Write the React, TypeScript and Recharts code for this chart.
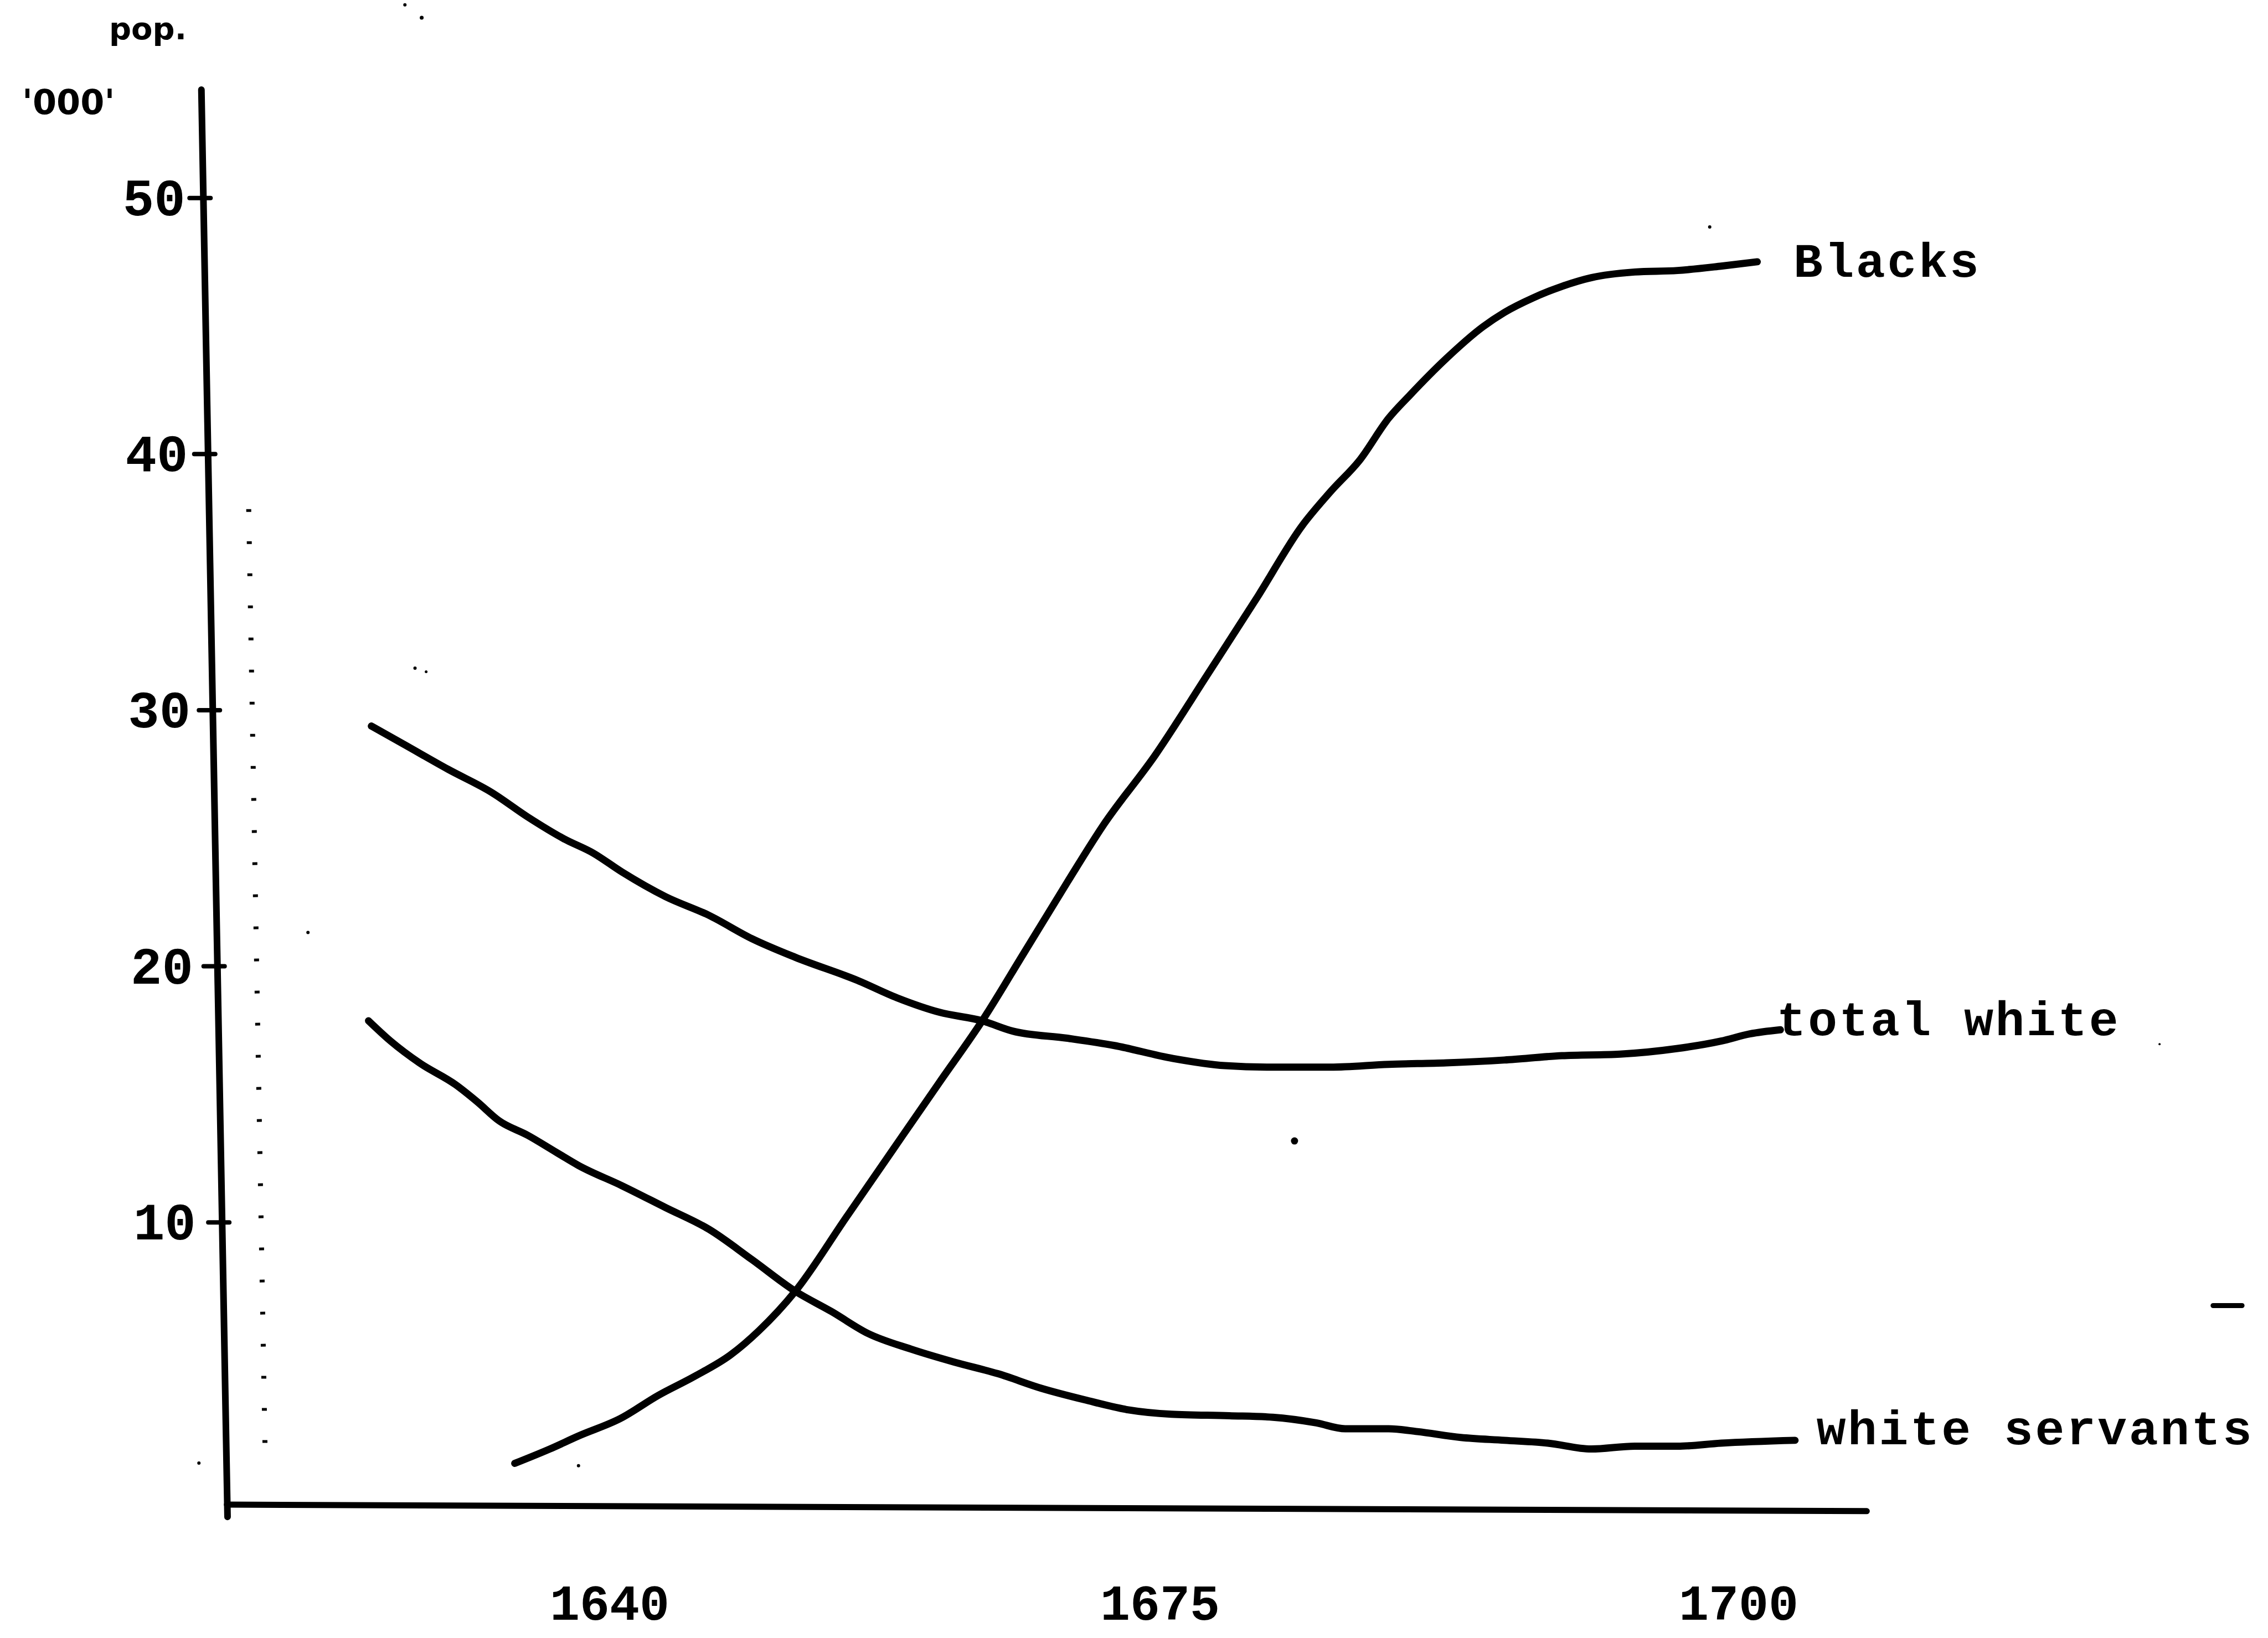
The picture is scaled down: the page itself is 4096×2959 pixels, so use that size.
import React from 'react';
import { LineChart, Line, XAxis, YAxis, ReferenceLine, ReferenceDot } from 'recharts';

// x is measured in axis units: the "1640" label sits at 0 and the "1700" label at 2
const xTickPositions = [0, 0.975, 2];
const xTickLabels = ['1640', '1675', '1700'];
const yTicks = [10, 20, 30, 40, 50];
const seriesNames = ['Blacks', 'total white', 'white servants'];

// population, thousands
const blacks = [
  { x: -0.168, y: 0.59 }, { x: -0.106, y: 1.15 }, { x: -0.055, y: 1.66 }, { x: 0.019, y: 2.34 },
  { x: 0.086, y: 3.24 }, { x: 0.15, y: 3.98 }, { x: 0.214, y: 4.82 }, { x: 0.265, y: 5.78 },
  { x: 0.329, y: 7.31 }, { x: 0.419, y: 10.19 }, { x: 0.501, y: 12.81 }, { x: 0.585, y: 15.49 },
  { x: 0.66, y: 17.87 }, { x: 0.734, y: 20.52 }, { x: 0.811, y: 23.29 }, { x: 0.874, y: 25.49 },
  { x: 0.967, y: 28.26 }, { x: 1.06, y: 31.42 }, { x: 1.149, y: 34.47 }, { x: 1.226, y: 37.18 },
  { x: 1.277, y: 38.53 }, { x: 1.329, y: 39.77 }, { x: 1.38, y: 41.4 }, { x: 1.418, y: 42.31 },
  { x: 1.482, y: 43.73 }, { x: 1.547, y: 44.97 }, { x: 1.585, y: 45.53 }, { x: 1.636, y: 46.1 },
  { x: 1.687, y: 46.55 }, { x: 1.739, y: 46.89 }, { x: 1.816, y: 47.11 }, { x: 1.892, y: 47.17 },
  { x: 1.969, y: 47.34 }, { x: 2.033, y: 47.51 },
];

const totalWhite = [
  { x: -0.422, y: 29.38 }, { x: -0.363, y: 28.65 }, { x: -0.286, y: 27.69 }, { x: -0.209, y: 26.79 },
  { x: -0.145, y: 25.83 }, { x: -0.081, y: 24.98 }, { x: -0.029, y: 24.42 }, { x: 0.022, y: 23.68 },
  { x: 0.099, y: 22.72 }, { x: 0.176, y: 21.99 }, { x: 0.252, y: 21.08 }, { x: 0.329, y: 20.35 },
  { x: 0.439, y: 19.45 }, { x: 0.509, y: 18.77 }, { x: 0.585, y: 18.2 }, { x: 0.66, y: 17.87 },
  { x: 0.714, y: 17.47 }, { x: 0.811, y: 17.19 }, { x: 0.893, y: 16.91 }, { x: 0.998, y: 16.4 },
  { x: 1.09, y: 16.12 }, { x: 1.175, y: 16.06 }, { x: 1.277, y: 16.06 }, { x: 1.38, y: 16.17 },
  { x: 1.482, y: 16.23 }, { x: 1.585, y: 16.34 }, { x: 1.687, y: 16.51 }, { x: 1.79, y: 16.57 },
  { x: 1.892, y: 16.79 }, { x: 1.969, y: 17.08 }, { x: 2.02, y: 17.36 }, { x: 2.074, y: 17.52 },
];

const whiteServants = [
  { x: -0.427, y: 17.87 }, { x: -0.388, y: 17.08 }, { x: -0.337, y: 16.23 }, { x: -0.273, y: 15.38 },
  { x: -0.234, y: 14.7 }, { x: -0.196, y: 13.97 }, { x: -0.145, y: 13.4 }, { x: -0.094, y: 12.73 },
  { x: -0.055, y: 12.22 }, { x: 0.022, y: 11.43 }, { x: 0.099, y: 10.58 }, { x: 0.176, y: 9.73 },
  { x: 0.252, y: 8.55 }, { x: 0.329, y: 7.31 }, { x: 0.393, y: 6.52 }, { x: 0.457, y: 5.67 },
  { x: 0.534, y: 5.05 }, { x: 0.611, y: 4.54 }, { x: 0.688, y: 4.09 }, { x: 0.765, y: 3.52 },
  { x: 0.842, y: 3.07 }, { x: 0.919, y: 2.68 }, { x: 0.995, y: 2.51 }, { x: 1.098, y: 2.45 },
  { x: 1.175, y: 2.39 }, { x: 1.252, y: 2.17 }, { x: 1.303, y: 1.94 }, { x: 1.38, y: 1.94 },
  { x: 1.431, y: 1.83 }, { x: 1.508, y: 1.6 }, { x: 1.585, y: 1.49 }, { x: 1.662, y: 1.38 },
  { x: 1.739, y: 1.15 }, { x: 1.816, y: 1.26 }, { x: 1.892, y: 1.26 }, { x: 1.969, y: 1.38 },
  { x: 2.1, y: 1.49 },
];

// hand-drawn axes and the scanned dotted guide
const yAxisSegment = [{ x: -0.7231, y: 54.23 }, { x: -0.6768, y: -1.5 }];
const xAxisSegment = [{ x: -0.678, y: -1.022 }, { x: 2.227, y: -1.276 }];
const dottedSegment = [{ x: -0.6393, y: 37.85 }, { x: -0.6099, y: 0.587 }];
const dashSegment = [{ x: 2.8405, y: 6.75 }, { x: 2.8918, y: 6.75 }];
const scanSpecks = [
  { x: 1.2133, y: 13.18, r: 6.5 },
  { x: -0.3447, y: 31.64, r: 3 },
  { x: -0.325, y: 31.5, r: 2.5 },
  { x: -0.5343, y: 21.32, r: 3 },
  { x: 1.9488, y: 48.87, r: 3 },
  { x: -0.0551, y: 0.5, r: 3 },
  { x: -0.7275, y: 0.6, r: 3 },
  { x: -0.3329, y: 57.04, r: 3.5 },
  { x: -0.3626, y: 57.54, r: 3 },
  { x: 2.7457, y: 16.96, r: 2 },
];

const W = 4096;
const H = 2959;
const PLOT_LEFT = 361.8;
const PLOT_TOP = 162;
const PLOT_BOTTOM = 2740.2;
const Y_AXIS_W = 300;
const X_AXIS_H = 200;
const MARGIN = {
  top: PLOT_TOP,
  right: 721.6,
  bottom: H - PLOT_BOTTOM - X_AXIS_H,
  left: PLOT_LEFT - Y_AXIS_W,
};
const X_DOMAIN: [number, number] = [-0.725, 2.23];
const Y_DOMAIN: [number, number] = [-1.5, 54.23];

const MONO = "'Liberation Mono', 'DejaVu Sans Mono', monospace";
const HAND = "'DejaVu Sans', sans-serif";
const INK = '#000';

const axisXAt = (y: number) => 363.7 + 0.0183 * (y - PLOT_TOP);

const YTick = (props: any) => {
  const { y, payload } = props;
  const ax = axisXAt(y);
  const end = ax - 32.7 - 0.008 * (y - 366);
  return (
    <g>
      <line x1={ax - 25} y1={y} x2={ax + 13} y2={y} stroke={INK} strokeWidth={8} strokeLinecap="round" />
      <text x={end} y={y + 31} textAnchor="end" fontFamily={MONO} fontWeight="bold" fontSize={94} fill={INK}>
        {payload.value}
      </text>
    </g>
  );
};

const XTick = (props: any) => {
  const { x, payload } = props;
  const i = xTickPositions.indexOf(payload.value);
  return (
    <text x={x} y={2926} textAnchor="middle" fontFamily={MONO} fontWeight="bold" fontSize={90} fill={INK}>
      {xTickLabels[i]}
    </text>
  );
};

const endLabel = (name: string, count: number, dx: number, dy: number) => (props: any) => {
  const { cx, cy, index } = props;
  if (index !== count - 1) return <g key={`e-${name}-${index}`} />;
  return (
    <text
      key={`lab-${name}`}
      x={cx + dx}
      y={cy + dy}
      fontFamily={MONO}
      fontWeight="bold"
      fontSize={88}
      letterSpacing={3.6}
      fill={INK}
    >
      {name}
    </text>
  );
};

export default function App() {
  return (
    <div style={{ position: 'absolute', left: 0, top: 0, width: W, height: H, background: '#fff' }}>
      <LineChart width={W} height={H} margin={MARGIN}>
        <XAxis
          type="number"
          dataKey="x"
          domain={X_DOMAIN}
          ticks={xTickPositions}
          interval={0}
          height={X_AXIS_H}
          axisLine={false}
          tickLine={false}
          tickSize={0}
          tickMargin={0}
          tick={<XTick />}
        />
        <YAxis
          type="number"
          domain={Y_DOMAIN}
          ticks={yTicks}
          interval={0}
          width={Y_AXIS_W}
          axisLine={false}
          tickLine={false}
          tickSize={0}
          tickMargin={0}
          tick={<YTick />}
        />
        <ReferenceLine segment={dottedSegment} stroke={INK} strokeWidth={9} strokeDasharray="5 53" ifOverflow="visible" />
        <ReferenceLine segment={yAxisSegment} stroke={INK} strokeWidth={12} strokeLinecap="round" ifOverflow="visible" />
        <ReferenceLine segment={xAxisSegment} stroke={INK} strokeWidth={11} strokeLinecap="round" ifOverflow="visible" />
        <ReferenceLine segment={dashSegment} stroke={INK} strokeWidth={9} strokeLinecap="round" ifOverflow="visible" />
        {scanSpecks.map((s, i) => (
          <ReferenceDot key={`sp${i}`} x={s.x} y={s.y} r={s.r} fill={INK} stroke="none" ifOverflow="visible" />
        ))}
        <Line
          data={blacks}
          dataKey="y"
          type="monotone"
          stroke={INK}
          strokeWidth={13}
          strokeLinecap="round"
          strokeLinejoin="round"
          dot={endLabel(seriesNames[0], blacks.length, 65.5, 27)}
          activeDot={false}
          isAnimationActive={false}
        />
        <Line
          data={totalWhite}
          dataKey="y"
          type="monotone"
          stroke={INK}
          strokeWidth={13}
          strokeLinecap="round"
          strokeLinejoin="round"
          dot={endLabel(seriesNames[1], totalWhite.length, -6.6, 10)}
          activeDot={false}
          isAnimationActive={false}
        />
        <Line
          data={whiteServants}
          dataKey="y"
          type="monotone"
          stroke={INK}
          strokeWidth={13}
          strokeLinecap="round"
          strokeLinejoin="round"
          dot={endLabel(seriesNames[2], whiteServants.length, 38.8, 7.4)}
          activeDot={false}
          isAnimationActive={false}
        />
      </LineChart>
      <svg width={W} height={H} style={{ position: 'absolute', left: 0, top: 0, pointerEvents: 'none' }}>
        <text x={197} y={70.5} fontFamily={HAND} fontWeight="bold" fontSize={56} fill={INK}>
          pop.
        </text>
        <text x={40} y={206} fontFamily={HAND} fontWeight="bold" fontSize={62} fill={INK}>
          '000'
        </text>
      </svg>
    </div>
  );
}
